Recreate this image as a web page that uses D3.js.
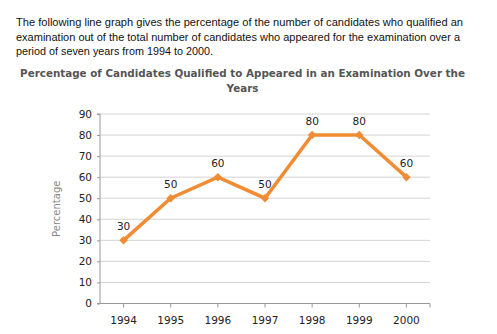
<!DOCTYPE html>
<html><head><meta charset="utf-8">
<script src="https://cdn.jsdelivr.net/npm/d3@7"></script>
<style>
body{margin:0;background:#fff;}
svg{display:block;}
</style></head>
<body>
<svg id="c" width="497" height="334"></svg>
<script>
const years = ["1994","1995","1996","1997","1998","1999","2000"];
const percentages = [30,50,60,50,80,80,60];
const yTicks = [0,10,20,30,40,50,60,70,80,90];
const introLines = [
  "The following line graph gives the percentage of the number of candidates who qualified an",
  "examination out of the total number of candidates who appeared for the examination over a",
  "period of seven years from 1994 to 2000."
];
const introWidths = [447, 444, 197];
const titleLines = ["Percentage of Candidates Qualified to Appeared in an Examination Over the","Years"];
const yLabel = "Percentage";

(function(){
const svg = d3.select("#c");
const pL=100, pR=430, pT=114, pB=303.5;

svg.selectAll("text.intro").data(introLines).join("text").attr("class","intro")
  .attr("x",16).attr("y",(d,i)=>26+i*14.5)
  .attr("font-family","Liberation Sans, Arial, sans-serif").attr("font-size",11.1)
  .attr("textLength",(d,i)=>introWidths[i]).attr("lengthAdjust","spacingAndGlyphs")
  .attr("fill","#111").text(d=>d);

svg.selectAll("text.title").data(titleLines).join("text").attr("class","title")
  .attr("x",242.5).attr("y",(d,i)=>77+i*15).attr("text-anchor","middle")
  .attr("font-family","DejaVu Sans, Verdana, sans-serif").attr("font-weight","bold")
  .attr("font-size",10.35).attr("fill","#555").text(d=>d);

const x = d3.scaleBand().domain(years).range([pL,pR]);
const y = d3.scaleLinear().domain([0,90]).range([pB,pT]);

svg.append("g").selectAll("line").data(yTicks.slice(1)).join("line")
  .attr("x1",pL).attr("x2",pR).attr("y1",d=>y(d)).attr("y2",d=>y(d))
  .attr("stroke","#d4d4d4").attr("stroke-width",1);

const ya = svg.append("g").attr("transform",`translate(${pL},0)`)
  .call(d3.axisLeft(y).tickValues(yTicks).tickSize(3).tickPadding(5));
ya.select(".domain").attr("stroke","#999").attr("d",`M-3,${y(90)}H0V${y(0)}H-3`);
ya.selectAll(".tick line").attr("stroke","#999");
ya.selectAll("text").attr("font-family","DejaVu Sans, Verdana, sans-serif").attr("font-size",10.5).attr("fill","#222");

const xa = svg.append("g").attr("transform",`translate(0,${pB})`)
  .call(d3.axisBottom(x).tickSize(4).tickPadding(9));
xa.select(".domain").attr("stroke","#999").attr("d",`M${pL},0H${pR}V4`);
xa.selectAll(".tick line").attr("stroke","#999");
xa.selectAll("text").attr("font-family","DejaVu Sans, Verdana, sans-serif").attr("font-size",10.5).attr("fill","#222");

svg.append("text").attr("transform",`translate(60,${(pT+pB)/2}) rotate(-90)`)
  .attr("text-anchor","middle").attr("font-family","DejaVu Sans, Verdana, sans-serif")
  .attr("font-size",10).attr("fill","#888").text(yLabel);

const cx = d=>x(d)+x.bandwidth()/2;
const line = d3.line().x((d,i)=>cx(years[i])).y(d=>y(d));
svg.append("path").datum(percentages).attr("d",line)
  .attr("fill","none").attr("stroke","#f08c34").attr("stroke-width",3.5).attr("stroke-linejoin","miter");

svg.selectAll("path.pt").data(percentages).join("path").attr("class","pt")
  .attr("d",d3.symbol(d3.symbolSquare,36)())
  .attr("transform",(d,i)=>`translate(${cx(years[i])},${y(d)}) rotate(45)`)
  .attr("fill","#f08c34");

svg.selectAll("text.val").data(percentages).join("text").attr("class","val")
  .attr("x",(d,i)=>cx(years[i])).attr("y",d=>y(d)-10).attr("text-anchor","middle")
  .attr("font-family","DejaVu Sans, Verdana, sans-serif").attr("font-size",10.5).attr("fill","#222")
  .text(d=>d);
})();
</script>
</body></html>
